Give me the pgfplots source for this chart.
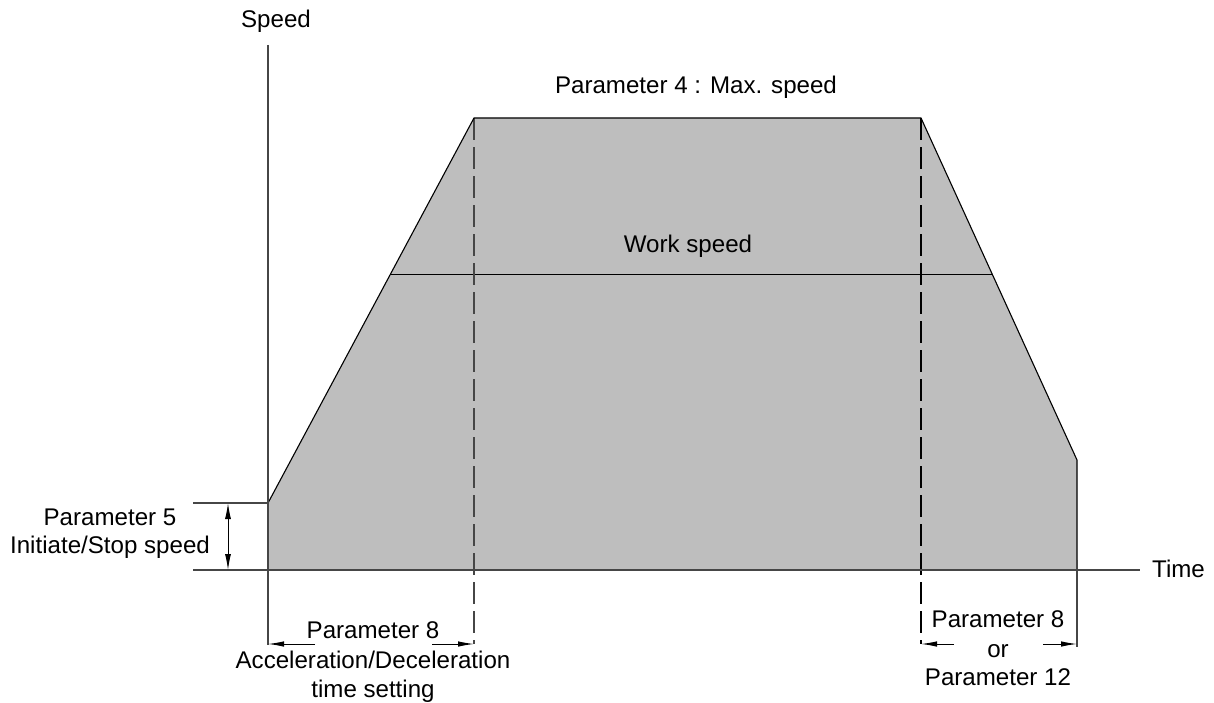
\documentclass[border=0pt]{standalone}
\usepackage{pgfplots}
\pgfplotsset{compat=1.18}
\usepackage{fontspec}
\setmainfont{Liberation Sans}
\usetikzlibrary{arrows.meta}
\definecolor{fillgray}{RGB}{190,190,190}
\definecolor{axgray}{RGB}{70,70,70}
\begin{document}
\begin{tikzpicture}
\begin{axis}[hide axis, scale only axis, width=1214bp, height=702bp,
  xmin=0, xmax=1214, ymin=0, ymax=702, y dir=reverse, clip=false,
  every axis plot/.append style={line width=1.1bp},
  nodes={font=\fontsize{24.2}{28}\selectfont}]
\path[use as bounding box] (rel axis cs:0,0) rectangle (rel axis cs:1,1);
% shaded profile
\addplot[fill=fillgray, draw=none] coordinates {(268,570) (268,503) (474,118) (921,118) (1077,460) (1077,570)} -- cycle;
% work speed line
\addplot[black, line width=1bp] coordinates {(390.5,274) (992,274)};
% dashed lines
\addplot[axgray, dash pattern=on 22bp off 7bp, line width=1.1bp] coordinates {(474,118) (474,644)};
\addplot[black, dash pattern=on 22bp off 7bp, line width=1.1bp] coordinates {(921,118) (921,644)};
% outline
\addplot[black] coordinates {(268,503) (474,118) (921,118) (1077,460) (1077,570)};
% axes
\addplot[axgray, line width=1.3bp] coordinates {(268,45) (268,645)};
\addplot[axgray, line width=1.3bp] coordinates {(193,570) (1140,570)};
\addplot[axgray, line width=1.1bp] coordinates {(193,503) (268,503)};
\addplot[axgray, line width=1.1bp] coordinates {(1077,560) (1077,647)};
% dimension arrows
\addplot[black, line width=1bp, {Latex[length=16bp,width=6bp]}-{Latex[length=16bp,width=6bp]}] coordinates {(228,503) (228,570)};
\addplot[black, line width=1bp, -{Latex[length=16bp,width=5.5bp]}] coordinates {(315,644) (268,644)};
\addplot[black, line width=1bp, -{Latex[length=16bp,width=5.5bp]}] coordinates {(432,644) (474,644)};
\addplot[black, line width=1bp, -{Latex[length=16bp,width=5.5bp]}] coordinates {(954,644) (921,644)};
\addplot[black, line width=1bp, -{Latex[length=16bp,width=5.5bp]}] coordinates {(1043,644) (1077,644)};
% texts
\node[anchor=base] at (axis cs:276,28) {Speed};
\node[anchor=base] at (axis cs:696,94) {Parameter 4 : Max. speed};
\node[anchor=base] at (axis cs:688,252) {Work speed};
\node[anchor=base west, inner sep=0pt] at (axis cs:1152,577) {Time};
\node[anchor=base] at (axis cs:110,525) {Parameter 5};
\node[anchor=base] at (axis cs:110,553) {Initiate/Stop speed};
\node[anchor=base] at (axis cs:373,638) {Parameter 8};
\node[anchor=base] at (axis cs:373,668) {Acceleration/Deceleration};
\node[anchor=base] at (axis cs:373,697) {time setting};
\node[anchor=base] at (axis cs:998,627) {Parameter 8};
\node[anchor=base] at (axis cs:998,657) {or};
\node[anchor=base] at (axis cs:998,685) {Parameter 12};
\end{axis}
\end{tikzpicture}
\end{document}
